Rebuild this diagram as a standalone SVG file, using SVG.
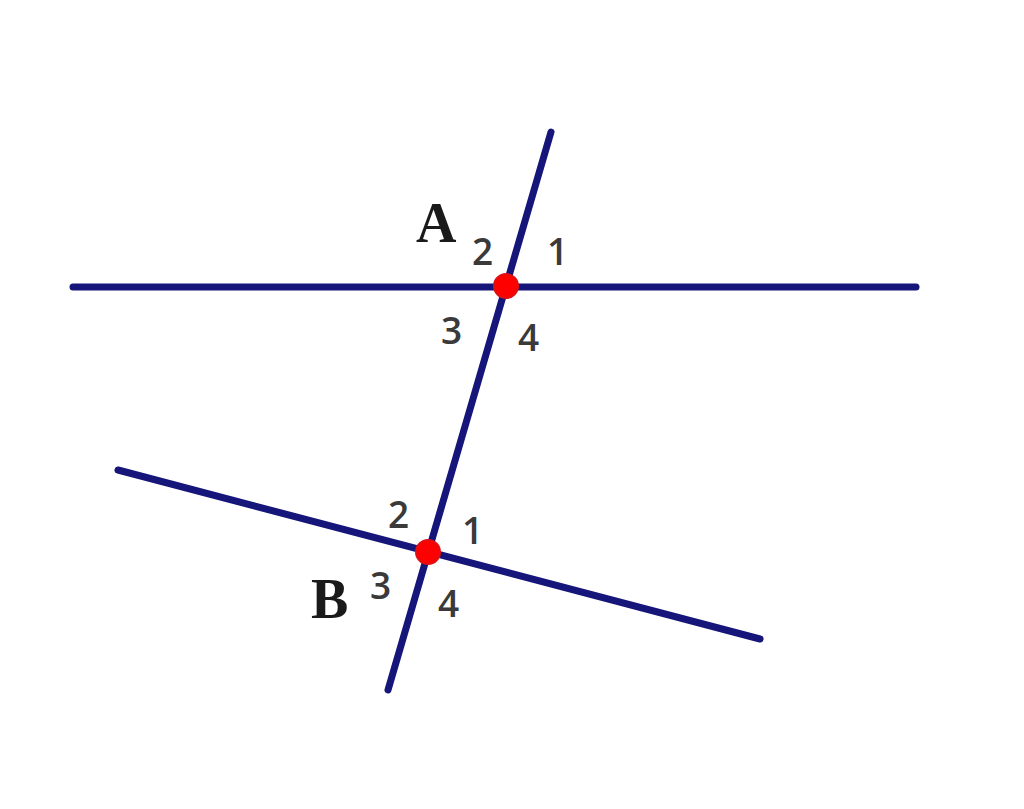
<svg xmlns="http://www.w3.org/2000/svg" width="1024" height="809" viewBox="0 0 1024 809">
<style>
.ln{stroke:#15157a;stroke-width:7;stroke-linecap:round;fill:none}
.pt{fill:#ff0000;stroke:#e01010;stroke-width:2}
.num{font-family:"Open Sans","DejaVu Sans",sans-serif;font-size:37px;font-weight:600;fill:#3a3a3a}
.big{font-family:"Liberation Serif",serif;font-weight:bold;font-size:56px;fill:#1a1a1a}
</style>
<rect width="1024" height="809" fill="#ffffff"/>
<g id="connectors">
<line class="ln" x1="73" y1="287" x2="916" y2="287"/>
<line class="ln" x1="551" y1="132" x2="388" y2="690"/>
<line class="ln" x1="118" y1="470" x2="760" y2="639"/>
</g>
<g id="A">
<circle class="pt" cx="506" cy="286" r="12"/>
<text class="big" x="416" y="242" textLength="52">A</text>
<text class="num" x="472" y="265">2</text>
<text class="num" x="547" y="265">1</text>
<text class="num" x="441" y="344">3</text>
<text class="num" x="518" y="351">4</text>
</g>
<g id="B">
<circle class="pt" cx="428" cy="552" r="12"/>
<text class="big" x="311" y="618" textLength="44">B</text>
<text class="num" x="388" y="528">2</text>
<text class="num" x="462" y="544">1</text>
<text class="num" x="370" y="599">3</text>
<text class="num" x="438" y="617">4</text>
</g>
</svg>
